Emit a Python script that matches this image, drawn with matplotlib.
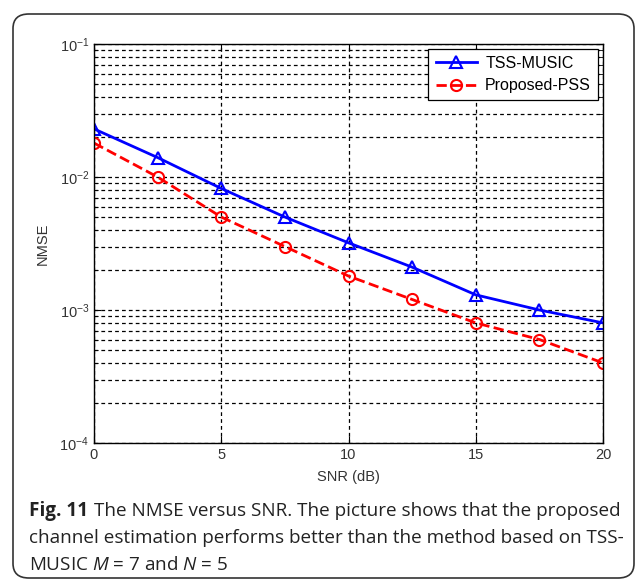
import matplotlib.pyplot as plt
from matplotlib.patches import FancyBboxPatch
from matplotlib.ticker import LogLocator, FixedLocator

snr = [0, 2.5, 5, 7.5, 10, 12.5, 15, 17.5, 20]
tss_music = [0.023, 0.014, 0.0082, 0.005, 0.0032, 0.0021, 0.0013, 0.001, 0.0008]
proposed_pss = [0.018, 0.01, 0.005, 0.003, 0.0018, 0.0012, 0.0008, 0.0006, 0.0004]
x_ticks = [0, 5, 10, 15, 20]

plt.rcParams['font.family'] = ['Liberation Sans', 'DejaVu Sans']
plt.rcParams['mathtext.rm'] = 'Open Sans'
plt.rcParams['mathtext.it'] = 'Open Sans:italic'

W, H = 637, 580
fig = plt.figure(figsize=(W / 100, H / 100), dpi=100)

# rounded frame around figure + caption
frame = FancyBboxPatch((13 / W, 2 / H), 621 / W, 1 - 16 / H,
                       boxstyle="round,pad=0,rounding_size=0.025",
                       transform=fig.transFigure, fill=False,
                       edgecolor='#333333', linewidth=1.2)
fig.patches.append(frame)

ax = fig.add_axes([94 / W, 1 - 443 / H, 509 / W, 399 / H])

ax.plot(snr, tss_music, '-', color='#0000ff', lw=2, marker='^', ms=9,
        mfc='none', mew=1.5, label='TSS-MUSIC')
ax.plot(snr, proposed_pss, '--', color='#ff0000', lw=2, marker='o', ms=8,
        mfc='none', mew=1.5, label='Proposed-PSS')

ax.set_yscale('log')
ax.set_xlim(0, 20)
ax.set_ylim(1e-4, 1e-1)
ax.xaxis.set_major_locator(FixedLocator(x_ticks))
ax.yaxis.set_major_locator(LogLocator(base=10))
ax.yaxis.set_minor_locator(LogLocator(base=10, subs=range(2, 10)))

grid_style = dict(color='black', linestyle=(0, (3, 2.5)), linewidth=0.9)
ax.grid(True, which='major', axis='both', **grid_style)
ax.grid(True, which='minor', axis='y', **grid_style)

ax.tick_params(which='both', direction='in', top=True, right=True,
               labelsize=10.5, colors='black', labelcolor='#333333')
ax.tick_params(which='major', length=5)
ax.tick_params(which='minor', length=3)
for s in ax.spines.values():
    s.set_linewidth(1.0)

ax.set_xlabel('SNR (dB)', fontsize=10.5, color='#333333', labelpad=6)
ax.set_ylabel('NMSE', fontsize=10.5, color='#333333', labelpad=7)

leg = ax.legend(loc='upper right', fontsize=11.5, fancybox=False,
                framealpha=1, edgecolor='black', borderaxespad=0.3,
                handlelength=2.6, handletextpad=0.5, borderpad=0.45,
                labelspacing=0.45)
leg.get_frame().set_linewidth(0.9)

# caption
cap_font = ['Open Sans', 'DejaVu Sans']
cap_size = 13.6
cap_color = '#222222'
x0 = 29 / W
t = fig.text(x0, 1 - 511 / H, 'Fig. 11', fontsize=cap_size, fontweight='bold',
             family=cap_font, va='center', color=cap_color)
renderer = fig.canvas.get_renderer()
bb = t.get_window_extent(renderer)
fig.text(bb.x1 / W + 6 / W, 1 - 511 / H,
         'The NMSE versus SNR. The picture shows that the proposed',
         fontsize=cap_size, family=cap_font, va='center', color=cap_color)
fig.text(x0, 1 - 538 / H,
         'channel estimation performs better than the method based on TSS-',
         fontsize=cap_size, family=cap_font, va='center', color=cap_color)
fig.text(x0, 1 - 565 / H, r'MUSIC $M$ = 7 and $N$ = 5',
         fontsize=cap_size, family=cap_font, va='center', color=cap_color,
         math_fontfamily='custom')

fig.savefig('out.png', dpi=100)
